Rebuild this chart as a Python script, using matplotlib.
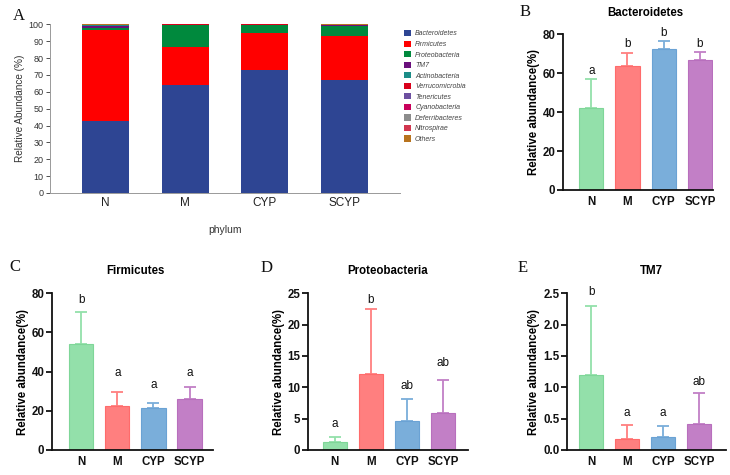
import matplotlib
matplotlib.use("Agg")
import matplotlib.pyplot as plt
import numpy as np

plt.rcParams['font.family'] = ['Liberation Sans', 'DejaVu Sans']

groups = ['N', 'M', 'CYP', 'SCYP']

# panel A: stacked relative abundance by phylum (%)
phyla = ['Bacteroidetes', 'Firmicutes', 'Proteobacteria', 'TM7', 'Actinobacteria',
         'Verrucomicrobia', 'Tenericutes', 'Cyanobacteria', 'Deferribacteres',
         'Nitrospirae', 'Others']
bacteroidetes_stack = [42.4, 63.9, 73.0, 67.1]
firmicutes_stack = [54.2, 22.5, 21.7, 26.0]
proteobacteria_stack = [1.4, 13.0, 4.8, 5.9]
tm7_stack = [1.2, 0.17, 0.21, 0.41]
actinobacteria_stack = [0.1, 0.3, 0.05, 0.1]
verrucomicrobia_stack = [0.05, 0.02, 0.2, 0.05]
tenericutes_stack = [0.25, 0.05, 0.02, 0.2]
cyanobacteria_stack = [0.1, 0.02, 0.02, 0.05]
deferribacteres_stack = [0.05, 0.02, 0.0, 0.02]
nitrospirae_stack = [0.02, 0.0, 0.0, 0.02]
others_stack = [0.23, 0.02, 0.0, 0.15]

# panels B-E: mean and SD (%)
bact_mean = [42.0, 63.7, 72.6, 66.8]
bact_sd = [15.0, 6.9, 4.0, 3.9]
bact_letters = ['a', 'b', 'b', 'b']
bact_letter_y = [59.6, 73.3, 79.1, 73.3]

firm_mean = [54.1, 22.5, 21.6, 25.9]
firm_sd = [16.2, 7.3, 2.2, 6.1]
firm_letters = ['b', 'a', 'a', 'a']
firm_letter_y = [74.9, 37.8, 31.8, 37.8]

prot_mean = [1.33, 12.2, 4.63, 5.96]
prot_sd = [0.7, 10.3, 3.5, 5.2]
prot_letters = ['a', 'b', 'ab', 'ab']
prot_letter_y = [3.7, 23.5, 9.8, 13.4]

tm7_mean = [1.20, 0.17, 0.21, 0.41]
tm7_sd = [1.10, 0.23, 0.17, 0.50]
tm7_letters = ['b', 'a', 'a', 'ab']
tm7_letter_y = [2.47, 0.54, 0.54, 1.04]

stack_colors = ['#2E4593', '#FF0000', '#00893D', '#6A0F7C', '#1B8C87', '#D9001B',
                '#6D4FA0', '#C8005B', '#8C8C8C', '#D1364F', '#B8731E']
bar_colors = ['#93E0AA', '#FF7F7F', '#7AAEDA', '#C27FC6']
edge_colors = ['#7FD698', '#FF6B6B', '#6AA2D4', '#B86FBD']

W, H = 730, 475
fig = plt.figure(figsize=(W / 100, H / 100), dpi=100)


def px_axes(left, top, right, bottom):
    return fig.add_axes([left / W, 1 - bottom / H, (right - left) / W, (bottom - top) / H])


# ---- panel A ----
axA = px_axes(50, 24.3, 400, 193)
x = np.arange(len(groups))
stacks = [bacteroidetes_stack, firmicutes_stack, proteobacteria_stack, tm7_stack,
          actinobacteria_stack, verrucomicrobia_stack, tenericutes_stack,
          cyanobacteria_stack, deferribacteres_stack, nitrospirae_stack, others_stack]
bottom = np.zeros(len(groups))
for name, vals, col in zip(phyla, stacks, stack_colors):
    axA.bar(x, vals, width=0.59, bottom=bottom, color=col, label=name, linewidth=0)
    bottom += np.array(vals)
axA.set_xlim(-0.70, 3.70)
axA.set_ylim(0, 100)
axA.set_yticks(range(0, 101, 10))
axA.set_xticks(x)
axA.set_xticklabels(groups, fontsize=8.5, color='#222222')
axA.tick_params(axis='y', labelsize=6.5, colors='#333333', length=3, width=0.6, pad=1.5)
axA.tick_params(axis='x', length=0, pad=3)
for s in ['top', 'right']:
    axA.spines[s].set_visible(False)
for s in ['left', 'bottom']:
    axA.spines[s].set_color('#999999')
    axA.spines[s].set_linewidth(0.7)
axA.set_ylabel('Relative Abundance (%)', fontsize=7.2, color='#333333', labelpad=3)
fig.text(225 / W, 1 - 230 / H, 'phylum', fontsize=7.5, color='#333333', ha='center', va='center')
leg = fig.legend(*axA.get_legend_handles_labels(), loc='upper left',
                 bbox_to_anchor=(404 / W, 1 - 30 / H), frameon=False,
                 prop={'style': 'italic', 'size': 5}, handlelength=1.0, handleheight=1.0,
                 handletextpad=0.6, labelspacing=0.44, borderaxespad=0, borderpad=0)
for t in leg.get_texts():
    t.set_color('#444444')


# ---- panels B-E ----
def bar_panel(ax, means, sds, letters, letter_y, ymax, yticks, title, xlim):
    xs = np.arange(len(groups))
    ax.bar(xs, means, width=0.67, color=bar_colors, edgecolor=edge_colors, linewidth=0.8, zorder=2)
    for i in range(len(groups)):
        ax.errorbar(xs[i], means[i], yerr=[[0], [sds[i]]], fmt='none', ecolor=bar_colors[i],
                    elinewidth=1.3, capsize=4.5, capthick=1.3, zorder=1)
        ax.text(xs[i], letter_y[i], letters[i], ha='center', va='baseline', fontsize=8.5,
                color='#111111')
    ax.set_xlim(*xlim)
    ax.set_ylim(0, ymax)
    ax.set_yticks(yticks)
    ax.set_xticks(xs)
    ax.set_xticklabels(groups)
    for s in ['top', 'right']:
        ax.spines[s].set_visible(False)
    for s in ['left', 'bottom']:
        ax.spines[s].set_linewidth(1.3)
        ax.spines[s].set_color('#111111')
    ax.tick_params(axis='both', width=1.3, length=4, labelsize=8.3, colors='#111111', pad=1.5)
    ax.tick_params(axis='x', length=0, pad=4)
    for lab in ax.get_xticklabels() + ax.get_yticklabels():
        lab.set_fontweight('bold')
    ax.set_ylabel('Relative abundance(%)', fontsize=8.3, fontweight='bold', labelpad=2)
    ax.set_title(title, fontsize=8.3, fontweight='bold', pad=0, y=1.0)


axB = px_axes(563, 34.3, 713, 190)
bar_panel(axB, bact_mean, bact_sd, bact_letters, bact_letter_y, 80, range(0, 81, 20),
          'Bacteroidetes', (-0.78, 3.36))
axB.title.set_position((0.55, 1.12))

axC = px_axes(52, 293.3, 213, 450)
bar_panel(axC, firm_mean, firm_sd, firm_letters, firm_letter_y, 80, range(0, 81, 20),
          'Firmicutes', (-0.81, 3.65))
axC.title.set_position((0.52, 1.12))

axD = px_axes(308, 293.3, 468, 450)
bar_panel(axD, prot_mean, prot_sd, prot_letters, prot_letter_y, 25, range(0, 26, 5),
          'Proteobacteria', (-0.74, 3.69))
axD.title.set_position((0.50, 1.12))

axE = px_axes(567, 293.3, 726, 450)
bar_panel(axE, tm7_mean, tm7_sd, tm7_letters, tm7_letter_y, 2.5, np.arange(0, 2.51, 0.5),
          'TM7', (-0.67, 3.75))
axE.set_yticklabels(['0.0', '0.5', '1.0', '1.5', '2.0', '2.5'])
for lab in axE.get_yticklabels():
    lab.set_fontweight('bold')
axE.title.set_position((0.53, 1.12))

# panel letters
for lbl, (px, py) in zip('ABCDE', [(19, 16), (525, 12), (15, 267), (267, 268), (523, 268)]):
    fig.text(px / W, 1 - py / H, lbl, fontsize=12, family='Liberation Serif',
             ha='center', va='center', color='#111111')

fig.savefig('out.png', dpi=100)
